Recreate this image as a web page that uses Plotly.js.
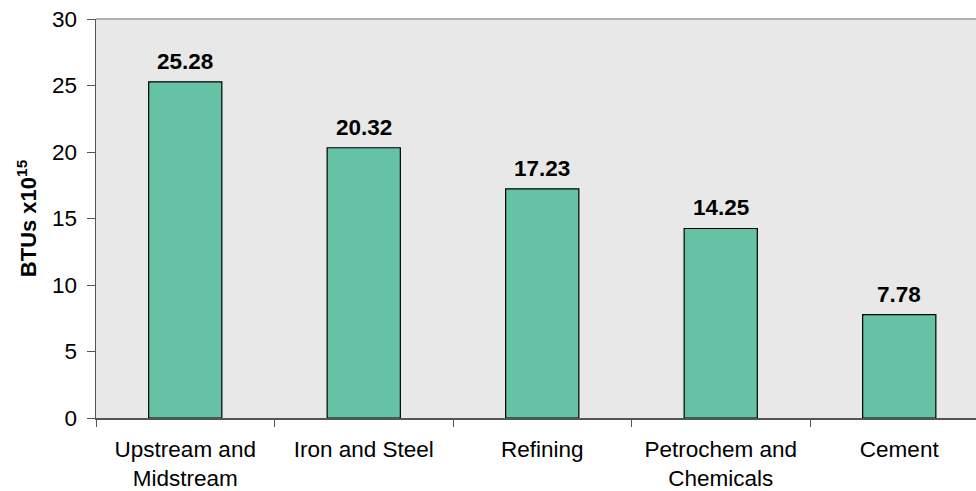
<!DOCTYPE html>
<html>
<head>
<meta charset="utf-8">
<script src="https://cdn.plot.ly/plotly-3.0.1.min.js"></script>
<style>
  html, body { margin: 0; padding: 0; background: #fff; }
  #chart { width: 976px; height: 491px; }
</style>
</head>
<body>
<div id="chart"></div>
<script>
// Energy use by industrial sector
const sectors = ["Upstream and<br>Midstream", "Iron and Steel", "Refining", "Petrochem and<br>Chemicals", "Cement"];
const btus = [25.28, 20.32, 17.23, 14.25, 7.78];
const yTicks = [0, 5, 10, 15, 20, 25, 30];

const FONT = "Liberation Sans, Arial, sans-serif";

const bars = {
  type: "bar",
  x: sectors,
  y: btus,
  width: 0.41,
  marker: { color: "#66c2a5", line: { color: "#000000", width: 1.2 } },
  hoverinfo: "skip"
};

// Value labels above each bar
const labels = sectors.map((s, i) => ({
  x: s,
  y: btus[i],
  xref: "x",
  yref: "y",
  text: "<b>" + btus[i].toFixed(2) + "</b>",
  showarrow: false,
  yanchor: "bottom",
  yshift: 6,
  font: { family: FONT, size: 22.5, color: "#000" }
}));

const layout = {
  width: 976,
  height: 491,
  margin: { l: 96, r: 0, t: 19, b: 73 },
  paper_bgcolor: "#ffffff",
  plot_bgcolor: "#e8e8e8",
  showlegend: false,
  font: { family: FONT, size: 22, color: "#000" },
  xaxis: {
    type: "category",
    range: [-0.5, 4.43],
    showline: true,
    linecolor: "#555555",
    linewidth: 1.5,
    ticks: "outside",
    tickson: "boundaries",
    ticklen: 7,
    tickcolor: "#555555",
    ticklabelstandoff: 10,
    tickfont: { family: FONT, size: 22.5, color: "#000" },
    showgrid: false,
    zeroline: false,
    fixedrange: true
  },
  yaxis: {
    range: [0, 30],
    tickvals: yTicks,
    ticktext: yTicks.map(String),
    showline: true,
    linecolor: "#555555",
    linewidth: 1.5,
    ticks: "outside",
    ticklen: 8,
    tickcolor: "#555555",
    ticklabelstandoff: 5,
    tickfont: { family: FONT, size: 22.5, color: "#000" },
    showgrid: false,
    zeroline: false,
    title: {
      text: "<b>BTUs x10<sup>15</sup></b>",
      font: { family: FONT, size: 22, color: "#000" },
      standoff: 9
    },
    fixedrange: true
  },
  shapes: [{
    type: "line",
    xref: "paper", yref: "paper",
    x0: 0, x1: 1, y0: 1, y1: 1,
    line: { color: "#999999", width: 1.5 }
  }],
  annotations: labels
};

Plotly.newPlot("chart", [bars], layout, { displayModeBar: false, staticPlot: true });
</script>
</body>
</html>
